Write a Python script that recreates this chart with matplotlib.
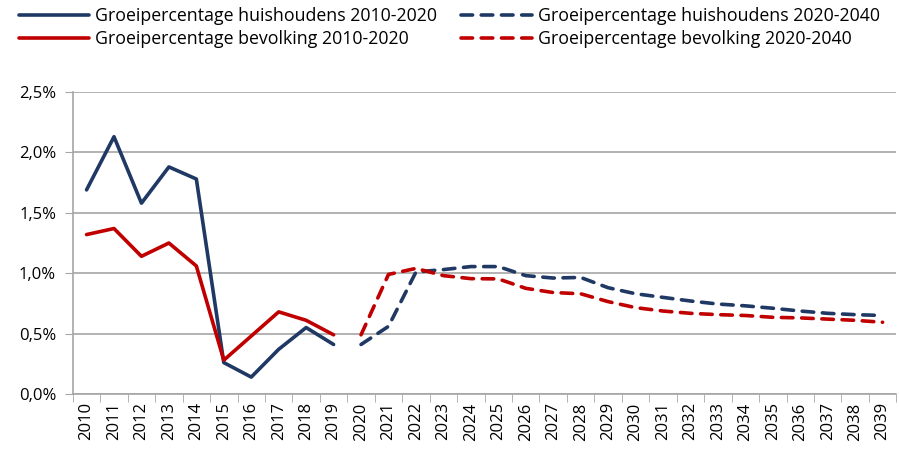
import matplotlib as mpl
mpl.use('Agg')
import matplotlib.pyplot as plt
from matplotlib.ticker import FuncFormatter, FixedLocator
import numpy as np

plt.rcParams['font.family'] = ['Open Sans', 'DejaVu Sans']

years = list(range(2010, 2040))
years_hist = years[:10]
years_proj = years[10:]

# growth in % per year
huish_hist = [1.69, 2.13, 1.58, 1.88, 1.78, 0.26, 0.14, 0.37, 0.55, 0.41]
bevolk_hist = [1.32, 1.37, 1.14, 1.25, 1.06, 0.28, 0.48, 0.68, 0.61, 0.49]
huish_proj = [0.41, 0.56, 1.01, 1.03, 1.055, 1.055, 0.98, 0.96, 0.965, 0.88,
              0.83, 0.80, 0.77, 0.745, 0.73, 0.71, 0.687, 0.668, 0.657, 0.65]
bevolk_proj = [0.49, 0.99, 1.04, 0.98, 0.955, 0.953, 0.875, 0.84, 0.83, 0.765,
               0.715, 0.687, 0.668, 0.657, 0.65, 0.635, 0.63, 0.62, 0.61, 0.594]

navy = '#1F3864'
red = '#C00000'
grid_c = '#A6A6A6'

fig = plt.figure(figsize=(8.99, 4.49), dpi=100)
ax = fig.add_axes([0.081, 0.1225, 0.916, 0.6725])

x_hist = np.arange(len(years_hist))
x_proj = np.arange(len(years_hist), len(years))

dash = (0, (3.2, 2.4))
h1, = ax.plot(x_hist, huish_hist, color=navy, lw=2.6, solid_capstyle='round',
              label='Groeipercentage huishoudens 2010-2020')
h2, = ax.plot(x_hist, bevolk_hist, color=red, lw=2.6, solid_capstyle='round',
              label='Groeipercentage bevolking 2010-2020')
h3, = ax.plot(x_proj, huish_proj, color=navy, lw=2.6, ls=dash,
              dash_capstyle='round', label='Groeipercentage huishoudens 2020-2040')
h4, = ax.plot(x_proj, bevolk_proj, color=red, lw=2.6, ls=dash,
              dash_capstyle='round', label='Groeipercentage bevolking 2020-2040')

# axes
ax.set_xlim(-0.5, len(years) - 0.5)
ax.set_ylim(0, 2.5)
ax.set_yticks(np.arange(0, 2.51, 0.5))
ax.yaxis.set_major_formatter(FuncFormatter(lambda v, p: f'{v:.1f}%'.replace('.', ',')))
ax.set_xticks(np.arange(len(years)))
ax.set_xticklabels([str(y) for y in years], rotation=90)
ax.xaxis.set_minor_locator(FixedLocator(np.arange(-0.5, len(years), 1)))
ax.tick_params(axis='x', which='major', length=0, pad=6, labelsize=12)
ax.tick_params(axis='x', which='minor', length=6, color=grid_c)
ax.tick_params(axis='y', length=6, color=grid_c, labelsize=12, pad=6)
ax.grid(axis='y', color=grid_c, lw=1.2)
ax.set_axisbelow(True)
for s in ['top', 'right']:
    ax.spines[s].set_visible(False)
for s in ['left', 'bottom']:
    ax.spines[s].set_color(grid_c)
    ax.spines[s].set_linewidth(1.2)

fig.legend(handles=[h1, h2, h3, h4], loc='upper left', bbox_to_anchor=(19 / 899, 1 - 7 / 449),
           ncol=2, frameon=False, fontsize=12.8, handlelength=3.95,
           handletextpad=0.35, columnspacing=1.35, labelspacing=0.3,
           borderpad=0, borderaxespad=0)

fig.savefig('out.png', dpi=100)
